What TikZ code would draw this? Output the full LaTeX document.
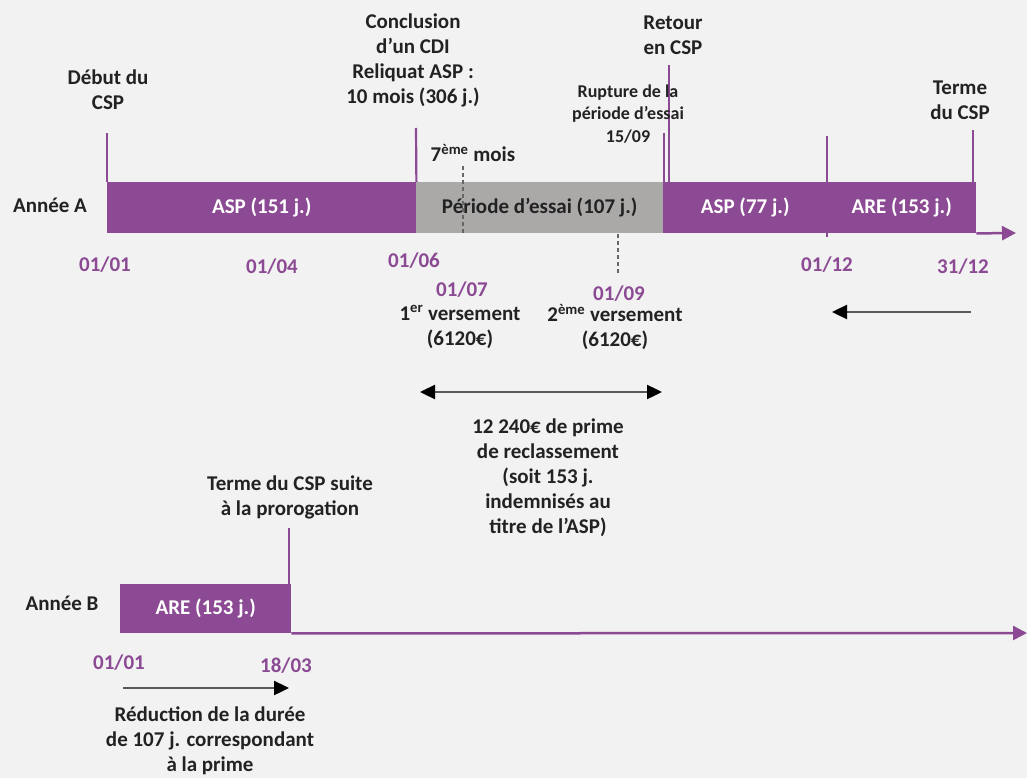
\documentclass[tikz,border=0pt]{standalone}
\usepackage{fontspec}
\setmainfont{Carlito}
\usetikzlibrary{arrows.meta}
\definecolor{bg}{HTML}{F2F2F2}
\definecolor{purp}{HTML}{8B4A93}
\definecolor{greybar}{HTML}{ABA8A8}
\definecolor{txt}{HTML}{222222}
\begin{document}
\begin{tikzpicture}[x=1pt,y=-1pt,
  lbl/.style={font=\fontsize{21}{25}\selectfont\bfseries, text=txt, align=center, inner sep=0pt},
  smalllbl/.style={font=\fontsize{18}{22.5}\selectfont\bfseries, text=txt, align=center, inner sep=0pt},
  datelbl/.style={font=\fontsize{21}{25}\selectfont\bfseries, text=purp, inner sep=0pt},
  barseg/.style={fill=purp, draw=none, inner sep=0pt, anchor=north west, font=\fontsize{21}{25}\selectfont\bfseries, text=white},
  greyseg/.style={fill=greybar, draw=none, inner sep=0pt, anchor=north west, font=\fontsize{21}{25}\selectfont\bfseries, text=txt},
  tickln/.style={draw=purp, line width=2.2pt},
  axisln/.style={draw=purp, line width=2.5pt, -{Triangle[length=14pt,width=14pt]}},
  dashln/.style={draw=black!60, line width=1.2pt, dash pattern=on 4pt off 3pt},
  blackarr/.style={draw=black!65, line width=2.4pt, -{Triangle[length=15pt,width=14pt,fill=black,color=black]}},
  dblarr/.style={draw=black!65, line width=2.4pt, {Triangle[length=15pt,width=14pt,fill=black,color=black]}-{Triangle[length=15pt,width=14pt,fill=black,color=black]}}
]
\path[use as bounding box, fill=bg] (0,0) rectangle (1027,778);

% ---------- Year A bars ----------
\node[barseg, minimum width=309pt, minimum height=51pt] (asp1) at (107,182) {ASP (151 j.)};
\node[greyseg, minimum width=247pt, minimum height=51pt] (essai) at (416,182) {Période d’essai (107 j.)};
\node[barseg, minimum width=164pt, minimum height=51pt] (asp2) at (663,182) {ASP (77 j.)};
\node[barseg, minimum width=149pt, minimum height=51pt] (are1) at (827,182) {ARE (153 j.)};
\coordinate (endA) at (1016,233);
\draw[axisln] (are1.south east) -- (endA);

% ticks year A
\coordinate (tk1) at (107,133);
\coordinate (tk2) at (416,128);
\coordinate (tk3a) at (664,133);
\coordinate (tk3b) at (669,65);
\coordinate (tk3bb) at (669,182);
\coordinate (tk3ab) at (664,182);
\coordinate (tk4) at (827,136);
\coordinate (tk4b) at (827,237);
\coordinate (tk5) at (973,130);
\coordinate (tk5b) at (973,182);
\draw[tickln] (asp1.north west) -- (tk1);
\draw[tickln] (asp1.north east) -- (tk2);
\draw[tickln] (tk3ab) -- (tk3a);
\draw[tickln] (tk3bb) -- (tk3b);
\draw[tickln] (tk4b) -- (tk4);
\draw[tickln] (tk5b) -- (tk5);

% dashed markers
\coordinate (d1a) at (463,166);
\coordinate (d1b) at (463,234);
\coordinate (d2a) at (618,234);
\coordinate (d2b) at (618,275);
\draw[dashln] (d1a) -- (d1b);
\draw[dashln] (d2a) -- (d2b);

% labels year A
\node[lbl] (debut) at (108,90) {Début du\\CSP};
\node[lbl] (concl) at (413,60) {Conclusion\\d’un CDI\\Reliquat ASP :\\10 mois (306 j.)};
\node[lbl] (septieme) at (473,153) {7\textsuperscript{ème} mois};
\node[lbl] (retour) at (673,35) {Retour\\en CSP};
\node[smalllbl] (rupture) at (628,114) {Rupture de la\\période d’essai\\15/09};
\node[lbl] (terme) at (960,100) {Terme\\du CSP};
\node[lbl] (anneeA) at (50,205) {Année A};

% dates year A
\node[datelbl] (dA1) at (105,265) {01/01};
\node[datelbl] (dA2) at (272,267) {01/04};
\node[datelbl] (dA3) at (414,261) {01/06};
\node[datelbl] (dA4) at (462,290) {01/07};
\node[datelbl] (dA5) at (619,294) {01/09};
\node[datelbl] (dA6) at (827,265) {01/12};
\node[datelbl] (dA7) at (963,267) {31/12};

\node[lbl] (vers1) at (460,327) {1\textsuperscript{er} versement\\(6120€)};
\node[lbl] (vers2) at (615,327) {2\textsuperscript{ème} versement\\(6120€)};

% arrows
\coordinate (la1) at (971,312);
\coordinate (la2) at (832,312);
\draw[blackarr] (la1) -- (la2);
\coordinate (da1) at (420,392);
\coordinate (da2) at (662,392);
\draw[dblarr] (da1) -- (da2);

\node[lbl] (prime) at (548,478) {12 240€ de prime\\de reclassement\\(soit 153 j.\\indemnisés au\\titre de l’ASP)};

% ---------- Year B ----------
\node[barseg, minimum width=171pt, minimum height=49pt] (are2) at (120,584) {ARE (153 j.)};
\coordinate (endB) at (1027,633);
\draw[axisln] (are2.south east) -- (endB);
\coordinate (tkB) at (289,528);
\coordinate (tkBb) at (289,584);
\draw[tickln] (tkBb) -- (tkB);

\node[lbl] (termeB) at (290,497) {Terme du CSP suite\\à la prorogation};
\node[lbl] (anneeB) at (62,603) {Année B};
\node[datelbl] (dB1) at (119,663) {01/01};
\node[datelbl] (dB2) at (286,666) {18/03};
\coordinate (ba1) at (123,688);
\coordinate (ba2) at (289,688);
\draw[blackarr] (ba1) -- (ba2);
\node[lbl] (reduc) at (210,741) {Réduction de la durée\\de 107 j. correspondant\\à la prime};
\end{tikzpicture}
\end{document}
